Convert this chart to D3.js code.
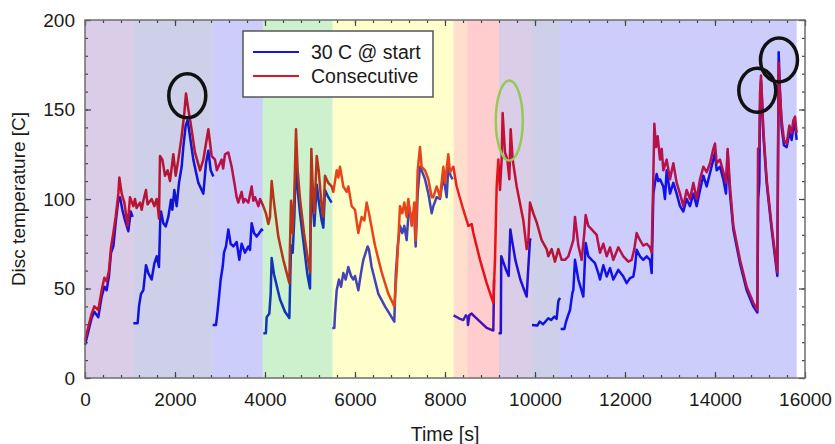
<!DOCTYPE html>
<html>
<head>
<meta charset="utf-8">
<script src="https://cdn.jsdelivr.net/npm/d3@7"></script>
<style>
  body { margin: 0; background: #fff; }
  svg { display: block; font-family: "Liberation Sans", Arial, sans-serif; }
</style>
</head>
<body>
<svg width="835" height="444"></svg>
<script>
// band edges (time, s) and band colours
var bandEdges = [0, 1080, 2830, 3950, 5500, 8190, 8500, 9200, 9930, 10560, 15815]
var bandColors = ['#46058c', '#05148c', '#0505f0', '#05b405', '#ffff00', '#ff5a05', '#ff0505', '#46058c', '#05148c', '#0505f0']

var xTicks = [0, 2000, 4000, 6000, 8000, 10000, 12000, 14000, 16000]
var yTicks = [0, 50, 100, 150, 200]

// "Consecutive" run [time, temperature]
var consecutive = [
  [0,21],[148,36],[207,40],[296,38],[370,49],[430,56],[481,54],[533,60],[578,73],[630,81],[681,90],[741,103],[763,112],
  [815,103],[874,98],[948,85],[1000,101],[1074,96],[1110,100],[1148,95],[1222,98],[1260,94],[1296,99],[1355,105],[1390,97],
  [1422,98],[1481,100],[1541,96],[1593,100],[1620,95],[1644,89],[1667,124],[1719,122],[1778,113],[1837,116],[1889,110],
  [1963,125],[2015,113],[2074,122],[2148,135],[2207,148],[2244,159],[2296,150],[2356,141],[2444,126],[2556,116],[2630,122],
  [2741,139],[2815,124],[2889,122],[2930,116],[2963,118],[3037,122],[3070,117],[3111,125],[3185,126],[3259,118],[3333,107],
  [3370,101],[3407,98],[3481,104],[3520,98],[3556,100],[3630,98],[3704,107],[3740,99],[3778,101],[3852,96],[3890,100],
  [3926,98],[3963,96],[4020,92],[4074,86],[4111,90],[4148,110],[4200,98],[4296,79],[4407,66],[4541,53],[4556,75],
  [4578,99],[4615,81],[4652,103],[4689,139],[4726,116],[4778,100],[4867,81],[4941,68],[5000,59],[5015,100],[5030,128],
  [5060,107],[5096,92],[5150,124],[5193,116],[5259,96],[5296,90],[5333,113],[5407,109],[5481,107],[5519,104],[5593,116],
  [5630,112],[5667,118],[5741,107],[5815,104],[5852,107],[5926,96],[6000,94],[6074,81],[6148,90],[6207,88],[6259,98],
  [6311,92],[6444,74],[6593,59],[6741,47],[6874,40],[6926,59],[6963,77],[7000,96],[7052,92],[7096,98],[7148,90],[7185,100],
  [7259,85],[7318,98],[7348,77],[7393,116],[7444,129],[7481,118],[7556,116],[7630,111],[7704,101],[7741,101],[7815,107],
  [7889,101],[7963,118],[8000,109],[8074,125],[8111,115],[8185,118],[8259,107],[8407,94],[8519,85],[8593,86],[8630,81],
  [8778,66],[8926,53],[9074,42],[9111,66],[9148,107],[9185,122],[9222,105],[9259,122],[9281,148],[9333,126],[9385,122],
  [9430,111],[9459,139],[9504,122],[9593,107],[9741,88],[9815,72],[9852,77],[9889,98],[9963,92],[10037,87],[10148,77],
  [10259,72],[10296,68],[10370,72],[10444,65],[10519,72],[10593,66],[10667,66],[10741,68],[10815,74],[10852,77],[10889,90],
  [10963,74],[11037,66],[11096,81],[11126,91],[11185,85],[11259,83],[11370,80],[11444,70],[11519,75],[11593,68],[11667,73],
  [11741,66],[11852,73],[11963,68],[12074,65],[12148,66],[12207,72],[12259,81],[12333,77],[12407,74],[12481,75],[12556,73],
  [12593,70],[12630,113],[12652,142],[12689,129],[12726,135],[12778,122],[12815,128],[12852,116],[12926,122],[13000,111],
  [13074,120],[13148,109],[13222,103],[13296,96],[13370,105],[13444,100],[13519,109],[13593,100],[13667,111],[13741,118],
  [13815,115],[13889,120],[13963,128],[14000,131],[14037,120],[14111,122],[14185,115],[14244,109],[14281,128],[14333,107],
  [14407,85],[14556,66],[14704,51],[14852,42],[14941,38],[14956,128],[14985,129],[15000,159],[15022,169],[15044,157],
  [15074,139],[15148,111],[15259,85],[15385,59],[15415,176],[15444,159],[15481,144],[15533,133],[15593,131],[15652,141],
  [15704,137],[15741,144],[15778,146],[15815,137]
]

// "30 C @ start" runs, one array per logged piece
var start1 = [[0,18.5],[148,33.5],[207,37],[296,34],[370,45.5],[430,51],[481,49],[533,57],[578,70],[630,73.5],[681,86.5],
  [741,99.6],[778,101],[830,94],[889,88],[963,82],[1015,93],[1059,90]]
var start2 = [[1074,30.6],[1170,30.6],[1200,40],[1244,47],[1296,49],[1355,63],[1407,58.6],[1481,55],[1541,64],[1593,68],
  [1644,62],[1674,90],[1689,93],[1741,86.5],[1793,84.7],[1852,90],[1911,99.6],[1941,94],[1985,105],[2037,96],[2089,109],
  [2148,118],[2185,129],[2237,141],[2281,144],[2333,135],[2407,122],[2519,109],[2630,103],[2689,120],[2741,127],[2793,116],
  [2852,112.6]]
var start3 = [[2837,29.6],[2911,29.6],[2941,36],[2985,47],[3015,55],[3059,62],[3089,70],[3133,73.5],[3185,83],[3237,75],
  [3296,73.5],[3370,76],[3430,66],[3481,75],[3556,70],[3630,73.5],[3667,71.6],[3704,86.5],[3756,81],[3815,79],[3874,81],
  [3926,83],[3948,82]]
var start4 = [[3963,25],[4020,25],[4037,34],[4096,36],[4126,47],[4148,67],[4200,58],[4333,44],[4444,37],[4541,33.5],
  [4556,50],[4578,74],[4615,70],[4652,90],[4689,126],[4726,105],[4778,92],[4867,73.5],[4941,58],[5000,50],[5015,88],
  [5030,112],[5060,98],[5096,85],[5150,108],[5193,99],[5259,88],[5296,84],[5333,105],[5407,101],[5481,98]]
var start5 = [[5496,28],[5541,28],[5556,36],[5593,49],[5644,55],[5689,51],[5741,58.6],[5793,55],[5852,62],[5911,57],
  [5963,55],[6000,57],[6074,49],[6133,58.6],[6185,66],[6237,70],[6281,73.5],[6311,71.6],[6370,62],[6519,47],[6667,40],
  [6874,31.5],[6904,57],[6948,73.5],[7000,85],[7052,81],[7096,85],[7148,77],[7200,96],[7259,88],[7318,90],[7348,73.5],
  [7393,103],[7444,118],[7481,116],[7556,111],[7630,103],[7704,92],[7741,96],[7815,101],[7889,100],[7963,113],[8037,101],
  [8074,118],[8126,113],[8170,111]]
var start6 = [[8190,35],[8333,33],[8407,32.4],[8463,35],[8500,34],[8510,29.6],[8541,35],[8593,36],[8630,35],[8778,31.5],
  [8926,28],[9074,26.5],[9090,55]]
var start7 = [[9190,25],[9240,25],[9250,68],[9363,60],[9415,57],[9452,83],[9489,77],[9563,66],[9674,55],[9785,47.4],
  [9815,45.5],[9852,62],[9889,77],[9904,78]]
var start8 = [[9933,29.6],[10052,29.3],[10104,31.5],[10180,30],[10296,33.4],[10356,32.4],[10430,34.3],[10480,33],
  [10519,43],[10556,44.8]]
var start9 = [[10570,27.4],[10652,27.4],[10681,30.6],[10726,34.3],[10778,38],[10830,47.4],[10852,49.2],[10889,66],
  [10963,55],[11074,45.5],[11126,75.4],[11185,68],[11259,66],[11333,64.2],[11407,58.6],[11444,55],[11519,63],[11593,56.7],
  [11667,61.4],[11741,55],[11852,60.4],[11963,56.7],[12037,53],[12111,55.8],[12185,56.7],[12222,62],[12259,71.6],
  [12333,68],[12407,66],[12481,68],[12556,66],[12593,58.6],[12630,103],[12667,109],[12704,114],[12741,110],[12778,111],
  [12852,107],[12889,100],[12926,116],[13000,103],[13074,109],[13148,103],[13222,96],[13296,93],[13370,100],[13444,96],
  [13519,103],[13593,96],[13667,105],[13741,113],[13815,107],[13889,114.5],[13963,122],[14000,126],[14037,116],[14111,118],
  [14185,111],[14244,103],[14281,126],[14333,103],[14407,83],[14556,64],[14704,49],[14852,40],[14941,36.6],[14960,100],
  [14985,109],[15000,150],[15022,166],[15044,155],[15074,136],[15148,109],[15259,83],[15385,57],[15415,182],[15444,160],
  [15481,140],[15533,130],[15593,129],[15652,137],[15704,133],[15741,140],[15778,142],[15815,133]]
var startRuns = [start1, start2, start3, start4, start5, start6, start7, start8, start9]

// marked peaks [time, temperature]
var blackMarks = [[2273,157.7],[14940,160.7],[15422,177.7]]
var greenMarks = [[9429,143.8]]

var svg = d3.select('svg')
var pL = 85, pR = 805, pT = 20, pB = 378

var x = d3.scaleLinear().domain([0, 16000]).range([pL, pR])
var y = d3.scaleLinear().domain([0, 200]).range([pB, pT])

var line = d3.line()
  .x(function(d) { return x(d[0]) })
  .y(function(d) { return y(d[1]) })

var blue = '#1414e6'
var red = '#e31420'

svg.append('g').selectAll('path').data(startRuns).enter().append('path')
  .attr('d', line)
  .attr('fill', 'none')
  .attr('stroke', blue)
  .attr('stroke-width', 2.5)
  .attr('stroke-linejoin', 'round')

svg.append('path')
  .attr('d', line(consecutive))
  .attr('fill', 'none')
  .attr('stroke', red)
  .attr('stroke-width', 2.5)
  .attr('stroke-linejoin', 'round')

// coloured phase bands lie over the curves
svg.append('g').selectAll('rect').data(bandColors).enter().append('rect')
  .attr('x', function(d, i) { return x(bandEdges[i]) })
  .attr('width', function(d, i) { return x(bandEdges[i + 1]) - x(bandEdges[i]) })
  .attr('y', pT)
  .attr('height', pB - pT)
  .attr('fill', function(d) { return d })
  .attr('fill-opacity', 0.2)

// axes, ticks inside the frame
var tickStyle = function(g) {
  g.select('.domain').remove()
  g.selectAll('line').attr('stroke', '#444').attr('stroke-width', 1.2)
  g.selectAll('text').attr('font-size', '19px').attr('fill', '#1a1a1a').attr('font-family', '"Liberation Sans", Arial, sans-serif')
}

svg.append('g').attr('transform', 'translate(0,' + pB + ')')
  .call(d3.axisBottom(x).tickValues(d3.range(0, 16001, 400)).tickSize(-3).tickFormat(''))
  .call(tickStyle)
svg.append('g').attr('transform', 'translate(0,' + pB + ')')
  .call(d3.axisBottom(x).tickValues(xTicks).tickSize(-6).tickPadding(15).tickFormat(d3.format('d')))
  .call(tickStyle)
svg.append('g').attr('transform', 'translate(0,' + pT + ')')
  .call(d3.axisTop(x).tickValues(d3.range(0, 16001, 400)).tickSize(-3).tickFormat(''))
  .call(tickStyle)
svg.append('g').attr('transform', 'translate(0,' + pT + ')')
  .call(d3.axisTop(x).tickValues(xTicks).tickSize(-6).tickFormat(''))
  .call(tickStyle)

svg.append('g').attr('transform', 'translate(' + pL + ',0)')
  .call(d3.axisLeft(y).tickValues(d3.range(0, 201, 10)).tickSize(-3).tickFormat(''))
  .call(tickStyle)
svg.append('g').attr('transform', 'translate(' + pL + ',0)')
  .call(d3.axisLeft(y).tickValues(yTicks).tickSize(-6).tickPadding(10).tickFormat(d3.format('d')))
  .call(tickStyle)
svg.append('g').attr('transform', 'translate(' + pR + ',0)')
  .call(d3.axisRight(y).tickValues(d3.range(0, 201, 10)).tickSize(-3).tickFormat(''))
  .call(tickStyle)
svg.append('g').attr('transform', 'translate(' + pR + ',0)')
  .call(d3.axisRight(y).tickValues(yTicks).tickSize(-6).tickFormat(''))
  .call(tickStyle)

svg.append('rect')
  .attr('x', pL).attr('y', pT)
  .attr('width', pR - pL).attr('height', pB - pT)
  .attr('fill', 'none').attr('stroke', '#6e6e6e').attr('stroke-width', 1.5)

// axis titles
svg.append('text')
  .attr('x', (pL + pR) / 2).attr('y', 441)
  .attr('text-anchor', 'middle').attr('font-size', '19.5px').attr('fill', '#1a1a1a')
  .text('Time [s]')
svg.append('text')
  .attr('transform', 'translate(25,' + (pT + pB) / 2 + ') rotate(-90)')
  .attr('text-anchor', 'middle').attr('font-size', '19px').attr('fill', '#1a1a1a')
  .text('Disc temperature [C]')

// peak markers
svg.append('g').selectAll('ellipse').data(blackMarks).enter().append('ellipse')
  .attr('cx', function(d) { return x(d[0]) })
  .attr('cy', function(d) { return y(d[1]) })
  .attr('rx', 18.5).attr('ry', 22)
  .attr('fill', 'none').attr('stroke', '#111').attr('stroke-width', 3.5)
svg.append('g').selectAll('ellipse').data(greenMarks).enter().append('ellipse')
  .attr('cx', function(d) { return x(d[0]) })
  .attr('cy', function(d) { return y(d[1]) })
  .attr('rx', 13.5).attr('ry', 40)
  .attr('fill', 'none').attr('stroke', '#92c957').attr('stroke-width', 2.5)

// legend
var legend = svg.append('g')
legend.append('rect')
  .attr('x', 243).attr('y', 31).attr('width', 190).attr('height', 66)
  .attr('fill', '#fff').attr('stroke', '#555').attr('stroke-width', 1.5)
var items = [['30 C @ start', blue], ['Consecutive', red]]
items.forEach(function(it, i) {
  legend.append('line')
    .attr('x1', 253).attr('x2', 299)
    .attr('y1', 52 + i * 24).attr('y2', 52 + i * 24)
    .attr('stroke', it[1]).attr('stroke-width', 2)
  legend.append('text')
    .attr('x', 311).attr('y', 58.5 + i * 24.5)
    .attr('font-size', '19.5px').attr('fill', '#1a1a1a')
    .text(it[0])
})
</script>
</body>
</html>
